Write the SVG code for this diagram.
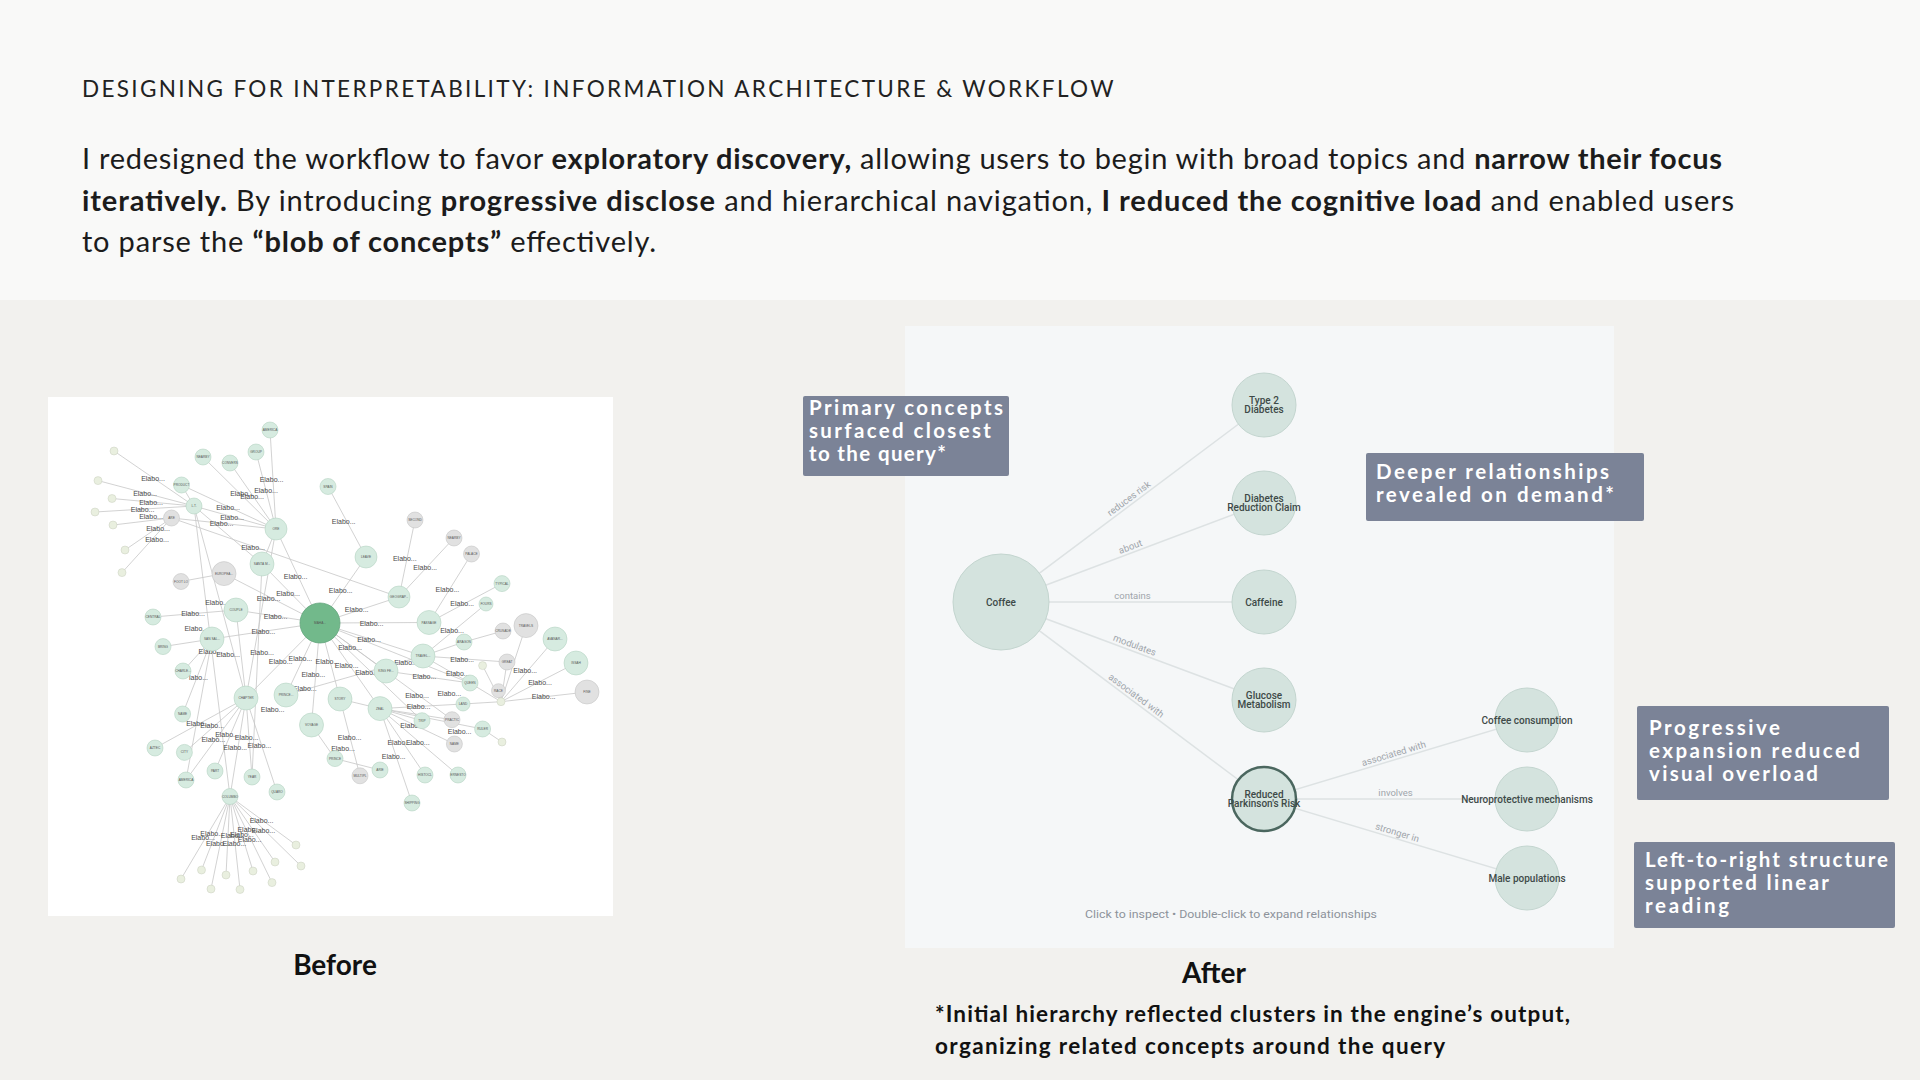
<svg xmlns="http://www.w3.org/2000/svg" width="1920" height="1080" viewBox="0 0 1920 1080">
<style>
.title{font-family:Lato,"Noto Sans",sans-serif;font-size:22.5px;fill:#222;letter-spacing:0.5px}
.para{font-family:Lato,"Noto Sans",sans-serif;font-size:29px;fill:#1c1c1c}
.b{font-weight:700}
.cap{font-family:Lato,"Noto Sans",sans-serif;font-size:28px;font-weight:700;fill:#111;text-anchor:middle}
.foot{font-family:Lato,"Noto Sans",sans-serif;font-size:22.5px;font-weight:700;fill:#111}
.callout rect{fill:#7b8397}
.callout text{font-family:Lato,"Noto Sans",sans-serif;font-size:20.5px;font-weight:700;fill:#fff}
.an circle{fill:#d4e3de;stroke:#c3d5cf;stroke-width:1}
.an text{font-family:Roboto,"Liberation Sans",sans-serif;font-size:10px;font-weight:500;fill:#3e4a48;text-anchor:middle}
.ae{stroke:#dde2e3;stroke-width:1.5}
.el{font-family:Roboto,"Liberation Sans",sans-serif;font-size:9.5px;fill:#a0a5ab;text-anchor:middle}
.be line{stroke:#c6c6c6;stroke-width:0.8}
.g circle{fill:#d6ebe0;stroke:#b6d3c3;stroke-width:0.6}
.n circle{fill:#e1e1e1;stroke:#c6c6c6;stroke-width:0.6}
.t circle{fill:#e9efdf;stroke:#c8cfbf;stroke-width:0.5}
.bc circle{fill:#72b98b;stroke:#64a67d;stroke-width:0.8}
.bn text{font-family:"Liberation Sans",Arial,sans-serif;font-size:3.2px;fill:#555;text-anchor:middle}
.lb{font-family:"Liberation Sans",Arial,sans-serif;font-size:7px;fill:#4a4a4a;text-anchor:middle}
</style>
<rect x="0" y="0" width="1920" height="300" fill="#f9f9f8"/>
<rect x="0" y="300" width="1920" height="780" fill="#f2f1ee"/>

<text class="title" x="82" y="97" textLength="1032" lengthAdjust="spacing">DESIGNING FOR INTERPRETABILITY: INFORMATION ARCHITECTURE &amp; WORKFLOW</text>
<text class="para" x="82" y="169" textLength="1640" lengthAdjust="spacing">I redesigned the workflow to favor <tspan class="b">exploratory discovery,</tspan> allowing users to begin with broad topics and <tspan class="b">narrow their focus</tspan></text>
<text class="para" x="82" y="211" textLength="1652" lengthAdjust="spacing"><tspan class="b">iteratively.</tspan> By introducing <tspan class="b">progressive disclose</tspan> and hierarchical navigation, <tspan class="b">I reduced the cognitive load</tspan> and enabled users</text>
<text class="para" x="82" y="252" textLength="574" lengthAdjust="spacing">to parse the <tspan class="b">“blob of concepts”</tspan> effectively.</text>

<!-- BEFORE panel -->
<rect x="48" y="397" width="565" height="519" fill="#ffffff"/>
<g id="before-connectors" class="be">
<line x1="320" y1="623" x2="276" y2="529"/><line x1="320" y1="623" x2="366" y2="557"/><line x1="320" y1="623" x2="399" y2="597"/><line x1="320" y1="623" x2="429" y2="622.5"/><line x1="320" y1="623" x2="423" y2="656"/><line x1="320" y1="623" x2="386" y2="671"/><line x1="320" y1="623" x2="380" y2="708.6"/><line x1="320" y1="623" x2="340" y2="699"/><line x1="320" y1="623" x2="311.5" y2="725"/><line x1="320" y1="623" x2="286" y2="695"/><line x1="320" y1="623" x2="246" y2="698"/><line x1="320" y1="623" x2="212" y2="639"/><line x1="320" y1="623" x2="236" y2="610"/><line x1="320" y1="623" x2="224" y2="573.6"/><line x1="320" y1="623" x2="262" y2="564"/><line x1="320" y1="623" x2="470" y2="683"/><line x1="320" y1="623" x2="422" y2="720.7"/><line x1="320" y1="623" x2="452" y2="719.7"/>
<line x1="276" y1="529" x2="270" y2="430"/><line x1="276" y1="529" x2="256" y2="452"/><line x1="276" y1="529" x2="203" y2="457"/><line x1="276" y1="529" x2="230" y2="463"/><line x1="276" y1="529" x2="181.5" y2="485"/><line x1="276" y1="529" x2="194" y2="506"/><line x1="276" y1="529" x2="171.5" y2="518"/><line x1="276" y1="529" x2="262" y2="564"/><line x1="276" y1="529" x2="246" y2="698"/>
<line x1="194" y1="506" x2="114" y2="451"/><line x1="194" y1="506" x2="98" y2="480.6"/><line x1="194" y1="506" x2="112" y2="498.5"/><line x1="194" y1="506" x2="95" y2="512"/><line x1="194" y1="506" x2="181.5" y2="485"/><line x1="194" y1="506" x2="262" y2="564"/><line x1="194" y1="506" x2="230" y2="796.5"/><line x1="194" y1="506" x2="246" y2="698"/>
<line x1="171.5" y1="518" x2="113" y2="525"/><line x1="171.5" y1="518" x2="125" y2="550"/><line x1="171.5" y1="518" x2="122" y2="572.6"/><line x1="171.5" y1="518" x2="399" y2="597"/>
<line x1="328" y1="486.5" x2="366" y2="557"/><line x1="399" y1="597" x2="415" y2="520"/><line x1="399" y1="597" x2="454" y2="538"/><line x1="429" y1="622.5" x2="471.5" y2="554"/><line x1="429" y1="622.5" x2="502" y2="583.6"/>
<line x1="423" y1="656" x2="486" y2="604"/><line x1="423" y1="656" x2="464" y2="642"/><line x1="423" y1="656" x2="507" y2="662"/><line x1="423" y1="656" x2="470" y2="683"/><line x1="464" y1="642" x2="503" y2="631"/>
<line x1="501" y1="701.7" x2="526" y2="625.6"/><line x1="501" y1="701.7" x2="555" y2="639"/><line x1="501" y1="701.7" x2="576" y2="663"/><line x1="501" y1="701.7" x2="587" y2="692"/><line x1="501" y1="701.7" x2="498.5" y2="690.7"/><line x1="501" y1="701.7" x2="507" y2="662"/><line x1="501" y1="701.7" x2="470" y2="683"/><line x1="501" y1="701.7" x2="463" y2="704"/><line x1="501" y1="701.7" x2="482.6" y2="665.6"/>
<line x1="224" y1="573.6" x2="181" y2="581.5"/><line x1="236" y1="610" x2="153" y2="617"/><line x1="236" y1="610" x2="246" y2="698"/>
<line x1="212" y1="639" x2="163" y2="646.6"/><line x1="212" y1="639" x2="183" y2="671"/><line x1="212" y1="639" x2="182.6" y2="714"/><line x1="212" y1="639" x2="186" y2="780"/>
<line x1="246" y1="698" x2="155" y2="748"/><line x1="246" y1="698" x2="184.4" y2="752.4"/><line x1="246" y1="698" x2="215" y2="771"/><line x1="246" y1="698" x2="252" y2="777"/><line x1="246" y1="698" x2="277" y2="792"/><line x1="246" y1="698" x2="230" y2="796.5"/><line x1="246" y1="698" x2="186" y2="780"/>
<line x1="262" y1="564" x2="252" y2="777"/><line x1="286" y1="695" x2="423" y2="656"/><line x1="311.5" y1="725" x2="335" y2="758.6"/><line x1="340" y1="699" x2="360" y2="775.8"/><line x1="340" y1="699" x2="380" y2="708.6"/>
<line x1="380" y1="708.6" x2="422" y2="720.7"/><line x1="380" y1="708.6" x2="452" y2="719.7"/><line x1="380" y1="708.6" x2="482.6" y2="729"/><line x1="380" y1="708.6" x2="454.4" y2="744"/><line x1="380" y1="708.6" x2="425" y2="775"/><line x1="380" y1="708.6" x2="458" y2="775"/><line x1="380" y1="708.6" x2="412" y2="803"/><line x1="380" y1="708.6" x2="463" y2="704"/>
<line x1="335" y1="758.6" x2="380" y2="770"/><line x1="482.6" y1="729" x2="502" y2="742"/><line x1="386" y1="671" x2="470" y2="683"/>
<line x1="230" y1="796.5" x2="296" y2="845"/><line x1="230" y1="796.5" x2="301" y2="866"/><line x1="230" y1="796.5" x2="275" y2="862"/><line x1="230" y1="796.5" x2="253" y2="871"/><line x1="230" y1="796.5" x2="272" y2="882.6"/><line x1="230" y1="796.5" x2="240" y2="889.5"/><line x1="230" y1="796.5" x2="226" y2="875"/><line x1="230" y1="796.5" x2="211" y2="889"/><line x1="230" y1="796.5" x2="201.5" y2="870"/><line x1="230" y1="796.5" x2="181" y2="879"/>
</g>
<g id="before-edge-labels">
<text class="lb" x="153" y="481">Elabo...</text><text class="lb" x="145" y="495.5">Elabo...</text><text class="lb" x="151" y="504.5">Elabo...</text><text class="lb" x="142.6" y="511.5">Elabo...</text><text class="lb" x="151" y="518.5">Elabo...</text><text class="lb" x="158" y="531">Elabo...</text><text class="lb" x="157" y="541.5">Elabo...</text>
<text class="lb" x="271.5" y="482">Elabo...</text><text class="lb" x="266" y="493">Elabo...</text><text class="lb" x="242" y="495.5">Elabo...</text><text class="lb" x="252" y="498.5">Elabo...</text><text class="lb" x="228" y="509.5">Elabo...</text><text class="lb" x="232" y="520">Elabo...</text><text class="lb" x="221.5" y="526">Elabo...</text><text class="lb" x="253" y="550">Elabo...</text>
<text class="lb" x="343.7" y="524">Elabo...</text><text class="lb" x="404.8" y="561">Elabo...</text><text class="lb" x="425.2" y="570">Elabo...</text><text class="lb" x="447.4" y="591.5">Elabo...</text><text class="lb" x="295.6" y="578.5">Elabo...</text><text class="lb" x="288" y="596">Elabo...</text><text class="lb" x="268.5" y="601">Elabo...</text><text class="lb" x="340.7" y="592.5">Elabo...</text><text class="lb" x="356.7" y="612">Elabo...</text><text class="lb" x="462.2" y="606">Elabo...</text>
<text class="lb" x="217" y="605">Elabo...</text><text class="lb" x="193" y="616">Elabo...</text><text class="lb" x="275.6" y="619">Elabo...</text><text class="lb" x="371.5" y="625.5">Elabo...</text><text class="lb" x="196.3" y="630.5">Elabo...</text><text class="lb" x="263.3" y="633.5">Elabo...</text><text class="lb" x="452" y="632.5">Elabo...</text><text class="lb" x="369" y="641.5">Elabo...</text><text class="lb" x="350" y="649.5">Elabo...</text><text class="lb" x="462.2" y="661.5">Elabo...</text>
<text class="lb" x="228" y="657">Elabo...</text><text class="lb" x="262" y="655">Elabo...</text><text class="lb" x="210.4" y="654">Elabo...</text><text class="lb" x="280.7" y="663.5">Elabo...</text><text class="lb" x="300.4" y="661">Elabo...</text><text class="lb" x="327.4" y="663.5">Elabo...</text><text class="lb" x="346.7" y="668">Elabo...</text><text class="lb" x="367" y="675">Elabo...</text><text class="lb" x="406" y="665">Elabo...</text><text class="lb" x="424.4" y="679">Elabo...</text><text class="lb" x="457.8" y="676">Elabo...</text>
<text class="lb" x="525.2" y="673">Elabo...</text><text class="lb" x="540" y="685">Elabo...</text><text class="lb" x="543.7" y="699">Elabo...</text><text class="lb" x="313.3" y="676.5">Elabo...</text><text class="lb" x="304.8" y="690.5">Elabo...</text><text class="lb" x="272.6" y="712">Elabo...</text><text class="lb" x="417" y="698">Elabo...</text><text class="lb" x="449.3" y="696">Elabo...</text><text class="lb" x="418.5" y="708.5">Elabo...</text><text class="lb" x="412.2" y="728">Elabo...</text><text class="lb" x="459.6" y="734">Elabo...</text>
<text class="lb" x="198" y="726">Elabo...</text><text class="lb" x="212.2" y="727.5">Elabo...</text><text class="lb" x="227" y="737">Elabo...</text><text class="lb" x="246.7" y="740">Elabo...</text><text class="lb" x="213.3" y="742">Elabo...</text><text class="lb" x="235.2" y="750">Elabo...</text><text class="lb" x="259.3" y="748">Elabo...</text><text class="lb" x="349.6" y="740">Elabo...</text><text class="lb" x="343" y="750.5">Elabo...</text><text class="lb" x="393.7" y="758.5">Elabo...</text><text class="lb" x="399.3" y="744.5">Elabo...</text><text class="lb" x="417.8" y="744.5">Elabo...</text><text class="lb" x="198.5" y="679.5">labo...</text>
<text class="lb" x="261.5" y="823">Elabo...</text><text class="lb" x="263.3" y="833">Elabo...</text><text class="lb" x="249.3" y="832">Elabo...</text><text class="lb" x="212.2" y="835.5">Elabo...</text><text class="lb" x="203" y="840">Elabo...</text><text class="lb" x="232.6" y="837.5">Elabo...</text><text class="lb" x="241.9" y="836.5">Elabo...</text><text class="lb" x="249.6" y="842">Elabo...</text><text class="lb" x="217.8" y="845.5">Elabo...</text><text class="lb" x="234.4" y="845.5">Elabo...</text>
</g>
<g id="before-nodes" class="bn">
<g id="b1" class="bc"><circle cx="320" cy="623" r="20"/><text x="320" y="624">MAHA...</text></g>
<g id="b2" class="g"><circle cx="270" cy="430" r="8"/><text x="270" y="431">AMERICA</text></g>
<g id="b3" class="g"><circle cx="256" cy="452" r="8"/><text x="256" y="453">GROUP</text></g>
<g id="b4" class="g"><circle cx="203" cy="457" r="8"/><text x="203" y="458">NEARBY</text></g>
<g id="b5" class="g"><circle cx="230" cy="463" r="8"/><text x="230" y="464">CONVERS</text></g>
<g id="b6" class="t"><circle cx="114" cy="451" r="4"/></g>
<g id="b7" class="g"><circle cx="181.5" cy="485" r="8"/><text x="181.5" y="486">PRODUCT</text></g>
<g id="b8" class="g"><circle cx="328" cy="486.5" r="8"/><text x="328" y="487.5">SPAIN</text></g>
<g id="b9" class="t"><circle cx="98" cy="480.6" r="4"/></g>
<g id="b10" class="t"><circle cx="112" cy="498.5" r="4"/></g>
<g id="b11" class="g"><circle cx="194" cy="506" r="8"/><text x="194" y="507">L.T.</text></g>
<g id="b12" class="t"><circle cx="95" cy="512" r="4"/></g>
<g id="b13" class="n"><circle cx="171.5" cy="518" r="8"/><text x="171.5" y="519">ARE</text></g>
<g id="b14" class="t"><circle cx="113" cy="525" r="4"/></g>
<g id="b15" class="g"><circle cx="276" cy="529" r="11"/><text x="276" y="530">ORE</text></g>
<g id="b16" class="n"><circle cx="415" cy="520" r="8"/><text x="415" y="521">SECOND</text></g>
<g id="b17" class="n"><circle cx="454" cy="538" r="8"/><text x="454" y="539">NEARBY</text></g>
<g id="b18" class="n"><circle cx="471.5" cy="554" r="8"/><text x="471.5" y="555">PALACE</text></g>
<g id="b19" class="g"><circle cx="366" cy="557" r="11"/><text x="366" y="558">LEAVE</text></g>
<g id="b20" class="t"><circle cx="125" cy="550" r="4"/></g>
<g id="b21" class="t"><circle cx="122" cy="572.6" r="4"/></g>
<g id="b22" class="n"><circle cx="224" cy="573.6" r="12"/><text x="224" y="574.6">EUROPEA...</text></g>
<g id="b23" class="g"><circle cx="262" cy="564" r="12"/><text x="262" y="565">SANTA M...</text></g>
<g id="b24" class="n"><circle cx="181" cy="581.5" r="8"/><text x="181" y="582.5">FOOT LO</text></g>
<g id="b25" class="g"><circle cx="399" cy="597" r="11"/><text x="399" y="598">GEOGRAP...</text></g>
<g id="b26" class="g"><circle cx="502" cy="583.6" r="8"/><text x="502" y="584.6">TYPICAL</text></g>
<g id="b27" class="g"><circle cx="486" cy="604" r="7"/><text x="486" y="605">FOURS</text></g>
<g id="b28" class="g"><circle cx="236" cy="610" r="12"/><text x="236" y="611">COUPLE</text></g>
<g id="b29" class="g"><circle cx="153" cy="617" r="8"/><text x="153" y="618">CENTRAL</text></g>
<g id="b30" class="g"><circle cx="429" cy="622.5" r="12"/><text x="429" y="623.5">PASSAGE</text></g>
<g id="b31" class="n"><circle cx="526" cy="625.6" r="12"/><text x="526" y="626.6">TRAVELS</text></g>
<g id="b32" class="n"><circle cx="503" cy="631" r="8"/><text x="503" y="632">CRUSADE</text></g>
<g id="b33" class="g"><circle cx="555" cy="639" r="12"/><text x="555" y="640">AVANAR...</text></g>
<g id="b34" class="g"><circle cx="212" cy="639" r="12"/><text x="212" y="640">SAN SAL...</text></g>
<g id="b35" class="g"><circle cx="163" cy="646.6" r="8"/><text x="163" y="647.6">BRING</text></g>
<g id="b36" class="g"><circle cx="423" cy="656" r="12"/><text x="423" y="657">TRAVEL...</text></g>
<g id="b37" class="g"><circle cx="464" cy="642" r="8"/><text x="464" y="643">ARAGON</text></g>
<g id="b38" class="g"><circle cx="576" cy="663" r="12"/><text x="576" y="664">ISSAH</text></g>
<g id="b39" class="n"><circle cx="507" cy="662" r="8"/><text x="507" y="663">GREAT</text></g>
<g id="b40" class="t"><circle cx="482.6" cy="665.6" r="4"/></g>
<g id="b41" class="g"><circle cx="183" cy="671" r="8"/><text x="183" y="672">CHARLE...</text></g>
<g id="b42" class="g"><circle cx="386" cy="671" r="12"/><text x="386" y="672">KING FE...</text></g>
<g id="b43" class="g"><circle cx="470" cy="683" r="8"/><text x="470" y="684">QUEEN</text></g>
<g id="b44" class="n"><circle cx="498.5" cy="690.7" r="7"/><text x="498.5" y="691.7">RACE</text></g>
<g id="b45" class="t"><circle cx="501" cy="701.7" r="4"/></g>
<g id="b46" class="n"><circle cx="587" cy="692" r="12"/><text x="587" y="693">FINE</text></g>
<g id="b47" class="g"><circle cx="246" cy="698" r="12"/><text x="246" y="699">CHAPTER</text></g>
<g id="b48" class="g"><circle cx="286" cy="695" r="12"/><text x="286" y="696">PRINCE...</text></g>
<g id="b49" class="g"><circle cx="340" cy="699" r="12"/><text x="340" y="700">STORY</text></g>
<g id="b50" class="g"><circle cx="380" cy="708.6" r="12"/><text x="380" y="709.6">ZEAL</text></g>
<g id="b51" class="g"><circle cx="463" cy="704" r="7"/><text x="463" y="705">LAND</text></g>
<g id="b52" class="g"><circle cx="182.6" cy="714" r="8"/><text x="182.6" y="715">NAME</text></g>
<g id="b53" class="g"><circle cx="422" cy="720.7" r="8"/><text x="422" y="721.7">TRIP</text></g>
<g id="b54" class="n"><circle cx="452" cy="719.7" r="8"/><text x="452" y="720.7">PRACTIC</text></g>
<g id="b55" class="g"><circle cx="311.5" cy="725" r="12"/><text x="311.5" y="726">VOYAGE</text></g>
<g id="b56" class="g"><circle cx="482.6" cy="729" r="8"/><text x="482.6" y="730">RULER</text></g>
<g id="b57" class="n"><circle cx="454.4" cy="744" r="8"/><text x="454.4" y="745">NAME</text></g>
<g id="b58" class="t"><circle cx="502" cy="742" r="4"/></g>
<g id="b59" class="g"><circle cx="155" cy="748" r="8"/><text x="155" y="749">AZTEC</text></g>
<g id="b60" class="g"><circle cx="184.4" cy="752.4" r="8"/><text x="184.4" y="753.4">CITY</text></g>
<g id="b61" class="g"><circle cx="335" cy="758.6" r="8"/><text x="335" y="759.6">PRINCE</text></g>
<g id="b62" class="g"><circle cx="380" cy="770" r="8"/><text x="380" y="771">ARIE</text></g>
<g id="b63" class="n"><circle cx="360" cy="775.8" r="8"/><text x="360" y="776.8">MULTIPL</text></g>
<g id="b64" class="g"><circle cx="215" cy="771" r="8"/><text x="215" y="772">PART</text></g>
<g id="b65" class="g"><circle cx="425" cy="775" r="8"/><text x="425" y="776">HISTOCL</text></g>
<g id="b66" class="g"><circle cx="458" cy="775" r="8"/><text x="458" y="776">ERNESTO</text></g>
<g id="b67" class="g"><circle cx="252" cy="777" r="8"/><text x="252" y="778">YEAR</text></g>
<g id="b68" class="g"><circle cx="186" cy="780" r="8"/><text x="186" y="781">AMERICA</text></g>
<g id="b69" class="g"><circle cx="277" cy="792" r="8"/><text x="277" y="793">QUARO</text></g>
<g id="b70" class="g"><circle cx="230" cy="796.5" r="8"/><text x="230" y="797.5">COLUMBO</text></g>
<g id="b71" class="g"><circle cx="412" cy="803" r="8"/><text x="412" y="804">SHIPPING</text></g>
<g id="b72" class="t"><circle cx="296" cy="845" r="4"/></g>
<g id="b73" class="t"><circle cx="301" cy="866" r="4"/></g>
<g id="b74" class="t"><circle cx="275" cy="862" r="4"/></g>
<g id="b75" class="t"><circle cx="253" cy="871" r="4"/></g>
<g id="b76" class="t"><circle cx="272" cy="882.6" r="4"/></g>
<g id="b77" class="t"><circle cx="240" cy="889.5" r="4"/></g>
<g id="b78" class="t"><circle cx="226" cy="875" r="4"/></g>
<g id="b79" class="t"><circle cx="211" cy="889" r="4"/></g>
<g id="b80" class="t"><circle cx="201.5" cy="870" r="4"/></g>
<g id="b81" class="t"><circle cx="181" cy="879" r="4"/></g>
</g>
<text class="cap" x="335" y="975">Before</text>

<!-- AFTER panel -->
<rect x="905" y="326" width="709" height="622" fill="#f5f7f8"/>
<g id="connectors">
<line class="ae" x1="1001" y1="602" x2="1264" y2="405"/>
<line class="ae" x1="1001" y1="602" x2="1264" y2="503"/>
<line class="ae" x1="1001" y1="602" x2="1264" y2="602"/>
<line class="ae" x1="1001" y1="602" x2="1264" y2="700"/>
<line class="ae" x1="1001" y1="602" x2="1264" y2="799"/>
<line class="ae" x1="1264" y1="799" x2="1527" y2="720"/>
<line class="ae" x1="1264" y1="799" x2="1527" y2="799"/>
<line class="ae" x1="1264" y1="799" x2="1527" y2="878"/>
<text class="el" x="1132.5" y="500.5" transform="rotate(-36.8 1132.5 503.5)">reduces risk</text>
<text class="el" x="1132.5" y="549.5" transform="rotate(-20.6 1132.5 552.5)">about</text>
<text class="el" x="1132.5" y="599">contains</text>
<text class="el" x="1132.5" y="648" transform="rotate(20.4 1132.5 651)">modulates</text>
<text class="el" x="1132.5" y="697.5" transform="rotate(36.8 1132.5 700.5)">associated with</text>
<text class="el" x="1395.5" y="756.5" transform="rotate(-16.7 1395.5 759.5)">associated with</text>
<text class="el" x="1395.5" y="796">involves</text>
<text class="el" x="1395.5" y="835.5" transform="rotate(16.7 1395.5 838.5)">stronger in</text>
</g>
<g id="n-coffee" class="an"><circle cx="1001" cy="602" r="48"/><text x="1001" y="605.5">Coffee</text></g>
<g id="n-type2" class="an"><circle cx="1264" cy="405" r="32"/><text x="1264" y="403.5">Type 2</text><text x="1264" y="412.5">Diabetes</text></g>
<g id="n-drc" class="an"><circle cx="1264" cy="503" r="32"/><text x="1264" y="501.5">Diabetes</text><text x="1264" y="510.5">Reduction Claim</text></g>
<g id="n-caffeine" class="an"><circle cx="1264" cy="602" r="32"/><text x="1264" y="605.5">Caffeine</text></g>
<g id="n-glucose" class="an"><circle cx="1264" cy="700" r="32"/><text x="1264" y="698.5">Glucose</text><text x="1264" y="707.5">Metabolism</text></g>
<g id="n-parkinson" class="an"><circle cx="1264" cy="799" r="32" style="stroke:#4b675f;stroke-width:2.5"/><text x="1264" y="797.5">Reduced</text><text x="1264" y="806.5">Parkinson's Risk</text></g>
<g id="n-consumption" class="an"><circle cx="1527" cy="720" r="32"/><text x="1527" y="723.5">Coffee consumption</text></g>
<g id="n-neuro" class="an"><circle cx="1527" cy="799" r="32"/><text x="1527" y="802.5">Neuroprotective mechanisms</text></g>
<g id="n-male" class="an"><circle cx="1527" cy="878" r="32"/><text x="1527" y="881.5">Male populations</text></g>
<text x="1231" y="918" textLength="292" lengthAdjust="spacingAndGlyphs" style="font-family:Roboto,'Liberation Sans',sans-serif;font-size:11.5px;fill:#8d939b;text-anchor:middle">Click to inspect • Double-click to expand relationships</text>

<g id="callout-primary" class="callout"><rect x="803" y="396" width="206" height="80" rx="2"/>
<text x="809" y="415" textLength="194" lengthAdjust="spacing">Primary concepts</text>
<text x="809" y="438" textLength="182" lengthAdjust="spacing">surfaced closest</text>
<text x="809" y="461" textLength="137" lengthAdjust="spacing">to the query*</text></g>
<g id="callout-deeper" class="callout"><rect x="1366" y="453" width="278" height="68" rx="2"/>
<text x="1376" y="479" textLength="233" lengthAdjust="spacing">Deeper relationships</text>
<text x="1376" y="502" textLength="238" lengthAdjust="spacing">revealed on demand*</text></g>
<g id="callout-progressive" class="callout"><rect x="1637" y="706" width="252" height="94" rx="2"/>
<text x="1649" y="735" textLength="131" lengthAdjust="spacing">Progressive</text>
<text x="1649" y="758" textLength="211" lengthAdjust="spacing">expansion reduced</text>
<text x="1649" y="781" textLength="169" lengthAdjust="spacing">visual overload</text></g>
<g id="callout-ltr" class="callout"><rect x="1634" y="842" width="261" height="86" rx="2"/>
<text x="1645" y="867" textLength="243" lengthAdjust="spacing">Left-to-right structure</text>
<text x="1645" y="890" textLength="184" lengthAdjust="spacing">supported linear</text>
<text x="1645" y="913" textLength="84" lengthAdjust="spacing">reading</text></g>

<text class="cap" x="1214" y="983">After</text>
<text class="foot" x="935" y="1022" textLength="635" lengthAdjust="spacing">*Initial hierarchy reflected clusters in the engine’s output,</text>
<text class="foot" x="935" y="1054" textLength="510" lengthAdjust="spacing">organizing related concepts around the query</text>
</svg>
